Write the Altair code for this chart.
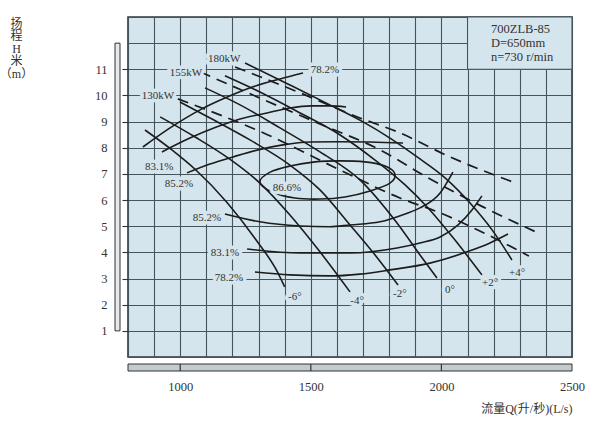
import altair as alt
import pandas as pd

# ---------------- data ----------------
# Blade-angle H-Q curves (Q in L/s, H in m)
angle_names = ["-6°", "-4°", "-2°", "0°", "+2°", "+4°"]
q_m6 = [865, 968, 1060, 1180, 1285, 1375, 1400]
h_m6 = [8.68, 7.92, 7.15, 5.90, 4.55, 3.20, 2.68]
q_m4 = [923, 1057, 1183, 1305, 1420, 1535, 1650]
h_m4 = [9.18, 8.41, 7.61, 6.65, 5.43, 4.02, 2.49]
q_m2 = [999, 1114, 1267, 1420, 1535, 1650, 1746, 1834]
h_m2 = [9.75, 9.14, 8.30, 7.34, 6.39, 5.05, 3.90, 2.75]
q_0 = [1095, 1229, 1382, 1535, 1688, 1830, 1918, 1983]
h_0 = [10.29, 9.64, 8.76, 7.84, 6.77, 5.12, 3.90, 3.02]
q_p2 = [1171, 1305, 1459, 1612, 1746, 1861, 1949, 2052, 2155]
h_p2 = [10.75, 10.13, 9.33, 8.49, 7.53, 6.58, 5.70, 4.47, 3.14]
q_p4 = [1248, 1420, 1573, 1700, 1803, 1907, 2014, 2113, 2194, 2270]
h_p4 = [11.24, 10.40, 9.64, 8.99, 8.37, 7.65, 6.85, 5.85, 4.86, 3.71]

# Power lines (dashed)
power_names = ["180kW", "155kW", "130kW"]
q_180 = [1210, 1459, 1688, 1834, 2033, 2274]
h_180 = [11.09, 10.10, 9.14, 8.60, 7.65, 6.69]
q_155 = [1076, 1305, 1535, 1765, 1949, 2159, 2362]
h_155 = [10.90, 9.90, 8.91, 7.92, 6.85, 5.74, 4.78]
q_130 = [991, 1336, 1612, 1841, 1995, 2186, 2335]
h_130 = [9.87, 8.49, 7.15, 6.08, 5.51, 4.63, 3.86]

# Efficiency contours (open branches)
q_e782u = [857, 961, 1076, 1171, 1279, 1382, 1470]
h_e782u = [8.03, 8.76, 9.45, 9.90, 10.33, 10.63, 10.86]
q_e831u = [930, 1037, 1141, 1229, 1332, 1420, 1501, 1573, 1635]
h_e831u = [7.84, 8.37, 8.80, 9.10, 9.33, 9.52, 9.60, 9.60, 9.56]
q_e852u = [1026, 1114, 1202, 1298, 1393, 1497, 1604, 1727, 1853]
h_e852u = [7.04, 7.38, 7.65, 7.92, 8.11, 8.22, 8.23, 8.22, 8.18]
q_e852l = [1171, 1305, 1459, 1573, 1650, 1765, 1861, 1918, 1995, 2044]
h_e852l = [5.47, 5.17, 5.01, 4.98, 5.05, 5.17, 5.47, 5.70, 6.27, 7.07]
q_e831l = [1256, 1459, 1650, 1830, 1918, 1995, 2064, 2117, 2155]
h_e831l = [4.13, 3.98, 3.98, 4.17, 4.36, 4.59, 5.05, 5.62, 6.16]
q_e782l = [1286, 1420, 1573, 1688, 1803, 1956, 2098, 2186, 2255]
h_e782l = [3.25, 3.14, 3.10, 3.17, 3.33, 3.59, 4.02, 4.36, 4.70]

# 86.6% closed contour
q_e866 = [1305, 1344, 1420, 1516, 1612, 1707, 1784, 1822, 1803, 1727, 1631, 1535, 1439, 1351]
h_e866 = [6.69, 7.07, 7.30, 7.46, 7.50, 7.46, 7.30, 7.00, 6.65, 6.35, 6.12, 6.04, 6.08, 6.31]

# Curve labels
label_text = ["180kW", "155kW", "130kW", "78.2%", "83.1%", "85.2%", "86.6%",
              "85.2%", "83.1%", "78.2%", "-6°", "-4°", "-2°", "0°", "+2°", "+4°"]
label_q = [1168, 1022, 915, 1554, 919, 995, 1409, 1102, 1171, 1187,
           1439, 1677, 1841, 2033, 2186, 2290]
label_h = [11.40, 10.86, 9.98, 10.98, 7.27, 6.62, 6.46, 5.32, 3.98, 3.02,
           2.29, 2.14, 2.41, 2.56, 2.83, 3.21]

# Info box
info_text = ["700ZLB-85", "D=650mm", "n=730 r/min"]
info_q = [2190, 2190, 2190]
info_h = [12.54, 12.0, 11.47]
info_box_q = [2100, 2500]
info_box_h = [11, 13]

# Axis values
grid_q = list(range(800, 2501, 100))
grid_h = list(range(0, 14))
x_tick_q = [1000, 1500, 2000]
y_bar_h = [1, 12]
x_bar_q = [800, 2500]

# ---------------- build tables ----------------
def tab(name, q, h):
    return pd.DataFrame({"Q": q, "H": h, "curve": name, "i": list(range(len(q)))})

hq_df = pd.concat([tab(n, q, h) for n, q, h in zip(
    angle_names,
    [q_m6, q_m4, q_m2, q_0, q_p2, q_p4],
    [h_m6, h_m4, h_m2, h_0, h_p2, h_p4])])
pw_df = pd.concat([tab(n, q, h) for n, q, h in zip(
    power_names, [q_180, q_155, q_130], [h_180, h_155, h_130])])
eff_df = pd.concat([tab(n, q, h) for n, q, h in zip(
    ["78.2u", "83.1u", "85.2u", "85.2l", "83.1l", "78.2l"],
    [q_e782u, q_e831u, q_e852u, q_e852l, q_e831l, q_e782l],
    [h_e782u, h_e831u, h_e852u, h_e852l, h_e831l, h_e782l])])
ell_df = tab("86.6", q_e866, h_e866)
lab_df = pd.DataFrame({"Q": label_q, "H": label_h, "label": label_text})
info_df = pd.DataFrame({"Q": info_q, "H": info_h, "label": info_text})
box_df = pd.DataFrame({"Q": [info_box_q[0]], "Q2": [info_box_q[1]],
                       "H": [info_box_h[0]], "H2": [info_box_h[1]]})
ybar_df = pd.DataFrame({"H": [y_bar_h[0]], "H2": [y_bar_h[1]]})
xbar_df = pd.DataFrame({"Q": [x_bar_q[0]], "Q2": [x_bar_q[1]]})
xtick_df = pd.DataFrame({"Q": x_tick_q})

# ---------------- styling ----------------
BG = "#d5e5ed"
GRID = "#46555c"
INK = "#1c1c1c"
TXT = "#333333"
SERIF = "Liberation Serif"
CJK = "Liberation Serif, Noto Sans CJK SC"

x_scale = alt.Scale(domain=[800, 2500], nice=False, zero=False)
y_scale = alt.Scale(domain=[0, 13], nice=False, zero=False)

x_axis = alt.Axis(
    values=grid_q, format="d", grid=True, gridColor=GRID, gridWidth=1.1, gridOpacity=1,
    ticks=False, domain=False,
    labelExpr="datum.value % 500 === 0 && datum.value > 800 ? datum.label : ''",
    labelPadding=23, labelFlush=False, labelOverlap=False,
    labelFont=SERIF, labelFontSize=12.5, labelColor=TXT,
    title="流量Q(升/秒)(L/s)", titleFont=CJK, titleFontSize=12, titleFontWeight="normal",
    titleColor=TXT, titleAnchor="end", titleAlign="right", titleBaseline="middle",
    titleX=444, titleY=51,
)
y_axis = alt.Axis(
    values=grid_h, format="d", grid=True, gridColor=GRID, gridWidth=1.1, gridOpacity=1,
    domain=False, tickSize=6, tickWidth=1.1,
    tickColor={"condition": {"test": "datum.value >= 1 && datum.value <= 11", "value": "#333333"},
               "value": "transparent"},
    labelExpr="datum.value >= 1 && datum.value <= 11 ? datum.label : ''",
    labelPadding=15, labelFont=SERIF, labelFontSize=12.5, labelColor=TXT,
    title=["扬", "程", "H", "米", "（m）"], titleFont=CJK, titleFontSize=12,
    titleFontWeight="normal", titleColor=TXT, titleAngle=0, titleAlign="center",
    titleBaseline="top", titleLineHeight=12.5, titleX=-112, titleY=1,
)

X = alt.X("Q:Q", scale=x_scale, axis=x_axis)
Y = alt.Y("H:Q", scale=y_scale, axis=y_axis)
X2 = alt.X2("Q2:Q")
Y2 = alt.Y2("H2:Q")

box = alt.Chart(box_df).mark_rect(fill=BG, stroke=GRID, strokeWidth=1.1).encode(
    x=X, x2=X2, y=Y, y2=Y2)

eff = alt.Chart(eff_df).mark_line(color=INK, strokeWidth=1.6, interpolate="monotone").encode(
    x=X, y=Y, detail="curve:N", order="i:Q")

ell = alt.Chart(ell_df).mark_line(color=INK, strokeWidth=1.6, interpolate="cardinal-closed").encode(
    x=X, y=Y, detail="curve:N", order="i:Q")

hq = alt.Chart(hq_df).mark_line(color=INK, strokeWidth=1.6, interpolate="monotone").encode(
    x=X, y=Y, detail="curve:N", order="i:Q")

pw = alt.Chart(pw_df).mark_line(color=INK, strokeWidth=1.7, strokeDash=[11, 7],
                                interpolate="monotone").encode(
    x=X, y=Y, detail="curve:N", order="i:Q")

halo = alt.Chart(lab_df).mark_text(font=SERIF, fontSize=11, color=BG, stroke=BG,
                                   strokeWidth=7, strokeJoin="round").encode(
    x=X, y=Y, text="label:N")
labels = alt.Chart(lab_df).mark_text(font=SERIF, fontSize=11, color=TXT).encode(
    x=X, y=Y, text="label:N")

info = alt.Chart(info_df).mark_text(font=SERIF, fontSize=12.5, color=TXT, align="left").encode(
    x=X, y=Y, text="label:N")

ybar = alt.Chart(ybar_df).mark_rect(fill="#e3e9ec", stroke="#333333", strokeWidth=1).encode(
    y=Y, y2=Y2, x=alt.value(-13), x2=alt.value(-8))

xbar = alt.Chart(xbar_df).mark_rect(fill="#c4cbcf", stroke="#333333", strokeWidth=1).encode(
    x=X, x2=X2, y=alt.value(347), y2=alt.value(354))
xticks = alt.Chart(xtick_df).mark_rule(color="#333333", strokeWidth=1.2).encode(
    x=X, y=alt.value(347), y2=alt.value(354))

chart = alt.layer(box, eff, ell, hq, pw, halo, labels, info, ybar, xbar, xticks).properties(
    width=444, height=340,
    padding={"left": 128, "top": 17, "right": 28, "bottom": 74},
    autosize=alt.AutoSizeParams(type="none"),
    background="white",
).configure_view(fill=BG, stroke="#2c383d", strokeWidth=1.6)

chart.save("out.html", embed_options={"renderer": "svg", "actions": False})
